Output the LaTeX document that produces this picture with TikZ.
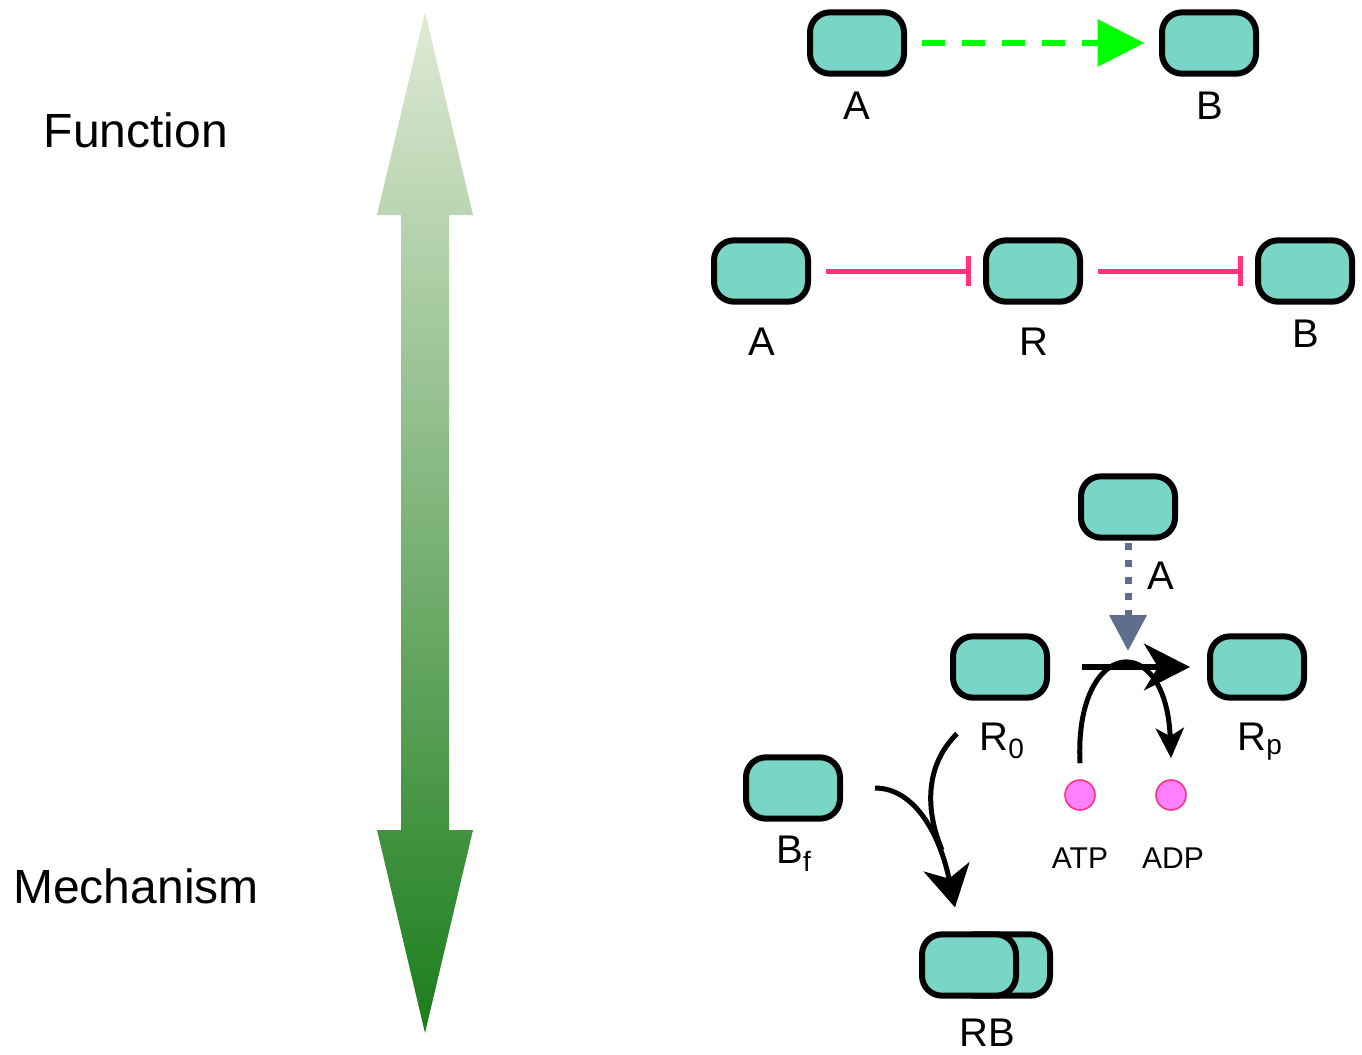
\documentclass[tikz,border=0pt]{standalone}
\usepackage{fontspec}
\setmainfont{Liberation Sans}
\usetikzlibrary{arrows.meta}
\definecolor{boxfill}{HTML}{79D5C5}
\definecolor{actgreen}{HTML}{00FF00}
\definecolor{inhpink}{HTML}{FF3380}
\definecolor{molfill}{HTML}{FF80FF}
\definecolor{catgray}{HTML}{5F6E8C}
\definecolor{gradtop}{HTML}{E0EAD6}
\definecolor{gradmid}{HTML}{B4C984}
\definecolor{gradbot}{HTML}{1B7D1B}
\begin{document}
\begin{tikzpicture}[x=0.75pt,y=-0.75pt,
  box/.style={draw=black, line width=4.5pt, fill=boxfill, rounded corners=15pt,
    minimum width=70.5pt, minimum height=46pt, inner sep=0pt},
  lbl/.style={font=\fontsize{30}{36}\selectfont, anchor=base, inner sep=0pt},
  biglbl/.style={font=\fontsize{36}{43}\selectfont, anchor=base, inner sep=0pt},
  smalllbl/.style={font=\fontsize{22.5}{27}\selectfont, anchor=base, inner sep=0pt},
  mol/.style={circle, draw=inhpink, line width=1.2pt, fill=molfill,
    minimum size=22.5pt, inner sep=0pt},
  actarrow/.style={draw=actgreen, line width=4.5pt, dash pattern=on 17.5pt off 12.5pt,
    -{Triangle[length=35pt,width=34.5pt]}, shorten <=11pt, shorten >=11pt},
  inharrow/.style={draw=inhpink, line width=3.75pt, -{Bar[width=23pt]},
    shorten <=11pt, shorten >=9pt},
  catarrow/.style={draw=catgray, line width=5.25pt, dash pattern=on 5.25pt off 7.25pt,
    -{Triangle[length=27pt,width=27pt]}},
  reacarrow/.style={draw=black, line width=4pt,
    -{Stealth[length=34.5pt,width=35pt,inset=10.5pt]}},
  curvearrow/.style={draw=black, line width=3.75pt},
]
\useasboundingbox (0,0) rectangle (1362,1054);

% gradient double arrow
\shade[top color=gradtop, middle color=gradmid, bottom color=gradbot]
  (425,12) -- (473,215) -- (449,215) -- (449,830) -- (473,830) -- (425,1033)
  -- (377,830) -- (401,830) -- (401,215) -- (377,215) -- cycle;

\node[biglbl] (func) at (136,147) {Function};
\node[biglbl] (mech) at (136,903) {Mechanism};

% row 1: activation
\node[box] (a1) at (857,43) {};
\node[box] (b1) at (1209,43) {};
\node[lbl] (la1) at (857,119) {A};
\node[lbl] (lb1) at (1210,119) {B};
\draw[actarrow] (a1) -- (b1);

% row 2: double inhibition
\node[box] (a2) at (761,271) {};
\node[box] (r2) at (1033,271) {};
\node[box] (b2) at (1305,271) {};
\node[lbl] (la2) at (762,355) {A};
\node[lbl] (lr2) at (1034,355) {R};
\node[lbl] (lb2) at (1306,347) {B};
\draw[inharrow] (a2) -- (r2);
\draw[inharrow] (r2) -- (b2);

% mechanism
\node[box] (a3) at (1128,507) {};
\node[lbl] (la3) at (1161,589) {A};
\node[box] (r0) at (1000,667) {};
\node[box] (rp) at (1257,667) {};
\node[lbl] (lr0) at (1002,750) {R\textsubscript{0}};
\node[lbl] (lrp) at (1260,750) {R\textsubscript{p}};
\node[box] (bf) at (793,788) {};
\node[lbl] (lbf) at (794,863) {B\textsubscript{f}};
\node[box] (rbb) at (1003,965) {};
\node[box] (rbf) at (969,965) {};
\node[lbl] (lrb) at (987,1046) {RB};
\node[mol] (atp) at (1080,795) {};
\node[mol] (adp) at (1171,795) {};
\node[smalllbl] (latp) at (1080,868) {ATP};
\node[smalllbl] (ladp) at (1173,868) {ADP};

\coordinate (cat) at (1128,651);
\coordinate (merge) at (942,850);

% phosphorylation
\draw[reacarrow, shorten <=24pt, shorten >=12.75pt] (r0) -- (rp);
\draw[catarrow, shorten <=2pt] (a3.south) -- (cat);
\draw[curvearrow, -{Stealth[length=22.5pt,width=21pt,inset=6pt]}]
  ([yshift=12pt]atp.north) .. controls (1074,638) and (1166,628) .. ([yshift=15.75pt]adp.north);

% binding
\draw[curvearrow, -{Stealth[length=31pt,width=35pt,inset=9pt]}]
  ([xshift=24pt]bf.east) .. controls (915,788) and (940,835) .. ([xshift=-10.5pt,yshift=18pt]rbf.north);
\draw[curvearrow]
  ([xshift=-32.25pt,yshift=-24.75pt]r0.south) .. controls (925,765) and (925,810) .. (merge);
\end{tikzpicture}
\end{document}
